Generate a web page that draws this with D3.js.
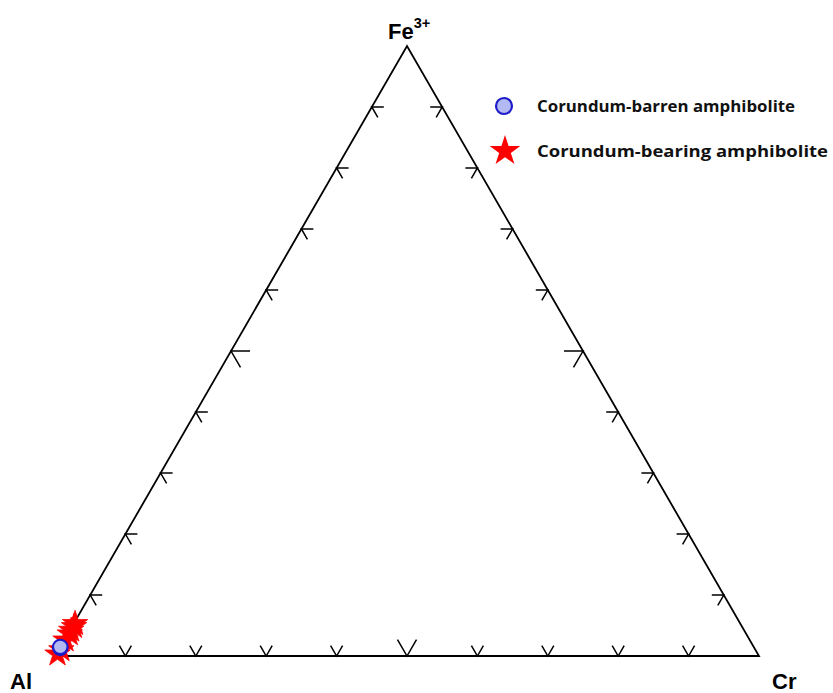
<!DOCTYPE html>
<html>
<head>
<meta charset="utf-8">
<script src="https://cdn.jsdelivr.net/npm/d3@7"></script>
<style>
  html, body { margin: 0; padding: 0; background: #fff; }
  svg { display: block; }
</style>
</head>
<body>
<svg id="chart" width="833" height="693"></svg>
<script>
// Ternary composition (percent) of Fe3+ - Al - Cr
const vertexLabels = ["Al", "Cr", "Fe"];
const tickValues = [10, 20, 30, 40, 50, 60, 70, 80, 90];

// Corundum-barren amphibolite
const barrenFe = [1.3, 1.5];
const barrenCr = [0.1, 0.0];

// Corundum-bearing amphibolite
const bearingFe = [0.3, 1.0, 2.6, 3.6, 4.2, 4.8, 5.3];
const bearingCr = [0.2, 0.4, 0.2, 0.3, 0.2, 0.3, 0.2];

const legendNames = ["Corundum-barren amphibolite", "Corundum-bearing amphibolite"];

const svg = d3.select("#chart");

// Base runs Al (0) to Cr (1); height runs from base to Fe apex
const x = d3.scaleLinear().domain([0, 1]).range([55, 759]);
const y = d3.scaleLinear().domain([0, 1]).range([656, 46]);

function project(fe, cr) {
  const f = fe / 100, c = cr / 100;
  return [x(c + f / 2), y(f)];
}

const Al = project(0, 0), Cr = project(0, 100), Fe = project(100, 0);

// Triangle outline
svg.append("path")
  .attr("d", d3.line()([Al, Cr, Fe, Al]) + "Z")
  .attr("fill", "none")
  .attr("stroke", "#000")
  .attr("stroke-width", 1.8)
  .attr("stroke-linejoin", "miter");

// Edge ticks: two short arms pointing inward along the grid directions
const s60 = Math.sqrt(3) / 2;
const edges = [
  { from: Al, to: Cr, arms: [[0.5, -s60], [-0.5, -s60]] },   // base
  { from: Al, to: Fe, arms: [[1, 0], [0.5, s60]] },          // left side
  { from: Fe, to: Cr, arms: [[-1, 0], [-0.5, s60]] }         // right side
];
const tickGroup = svg.append("g")
  .attr("stroke", "#000")
  .attr("stroke-width", 1.5)
  .attr("fill", "none");

edges.forEach(e => {
  tickValues.forEach(t => {
    const p = [e.from[0] + (e.to[0] - e.from[0]) * t / 100,
               e.from[1] + (e.to[1] - e.from[1]) * t / 100];
    const len = t === 50 ? 19 : 12;
    const a = e.arms[0], b = e.arms[1];
    tickGroup.append("path")
      .attr("d", d3.line()([
        [p[0] + a[0] * len, p[1] + a[1] * len],
        p,
        [p[0] + b[0] * len, p[1] + b[1] * len]
      ]));
  });
});

// Vertex labels
const labelFont = "Liberation Sans, Arial, sans-serif";
svg.append("text").attr("x", 10).attr("y", 689)
  .attr("font-family", labelFont).attr("font-weight", "bold").attr("font-size", 22)
  .text(vertexLabels[0]);
svg.append("text").attr("x", 772).attr("y", 689)
  .attr("font-family", labelFont).attr("font-weight", "bold").attr("font-size", 22)
  .text(vertexLabels[1]);
const feLabel = svg.append("text").attr("x", 388).attr("y", 39)
  .attr("font-family", labelFont).attr("font-weight", "bold").attr("font-size", 22);
feLabel.append("tspan").text(vertexLabels[2]);
feLabel.append("tspan").attr("dy", -11).attr("font-size", 14.5).text("3+");

// Star symbol
const star = d3.symbol().type(d3.symbolStar);
const starColor = "#ff0000";

// Bearing samples (drawn first, beneath the barren circles)
const bearing = bearingFe.map((fe, i) => project(fe, bearingCr[i]));
svg.append("g").selectAll("path")
  .data(bearing)
  .join("path")
  .attr("transform", d => `translate(${d[0]},${d[1]})`)
  .attr("d", star.size(200)())
  .attr("fill", starColor)
  .attr("stroke", starColor)
  .attr("stroke-width", 0.8);

// Barren samples
const barren = barrenFe.map((fe, i) => project(fe, barrenCr[i]));
svg.append("g").selectAll("circle")
  .data(barren)
  .join("circle")
  .attr("cx", d => d[0]).attr("cy", d => d[1])
  .attr("r", 7.2)
  .attr("fill", "#b3b9f2")
  .attr("stroke", "#1c1cc8")
  .attr("stroke-width", 2);

// Legend
const legend = svg.append("g");
legend.append("circle").attr("cx", 504).attr("cy", 106).attr("r", 8)
  .attr("fill", "#b3b9f2").attr("stroke", "#1c1cc8").attr("stroke-width", 2.2);
legend.append("path").attr("transform", "translate(505,151)")
  .attr("d", d3.symbol().type(d3.symbolStar).size(290)())
  .attr("fill", starColor);
const legendFont = "Open Sans, Lato, sans-serif";
legend.append("text").attr("x", 537).attr("y", 112)
  .attr("font-family", legendFont).attr("font-weight", "bold").attr("font-size", 16.5)
  .attr("fill", "#111")
  .attr("textLength", 258).attr("lengthAdjust", "spacingAndGlyphs")
  .text(legendNames[0]);
legend.append("text").attr("x", 537).attr("y", 157)
  .attr("font-family", legendFont).attr("font-weight", "bold").attr("font-size", 16.5)
  .attr("fill", "#111")
  .attr("textLength", 291).attr("lengthAdjust", "spacingAndGlyphs")
  .text(legendNames[1]);
</script>
</body>
</html>
